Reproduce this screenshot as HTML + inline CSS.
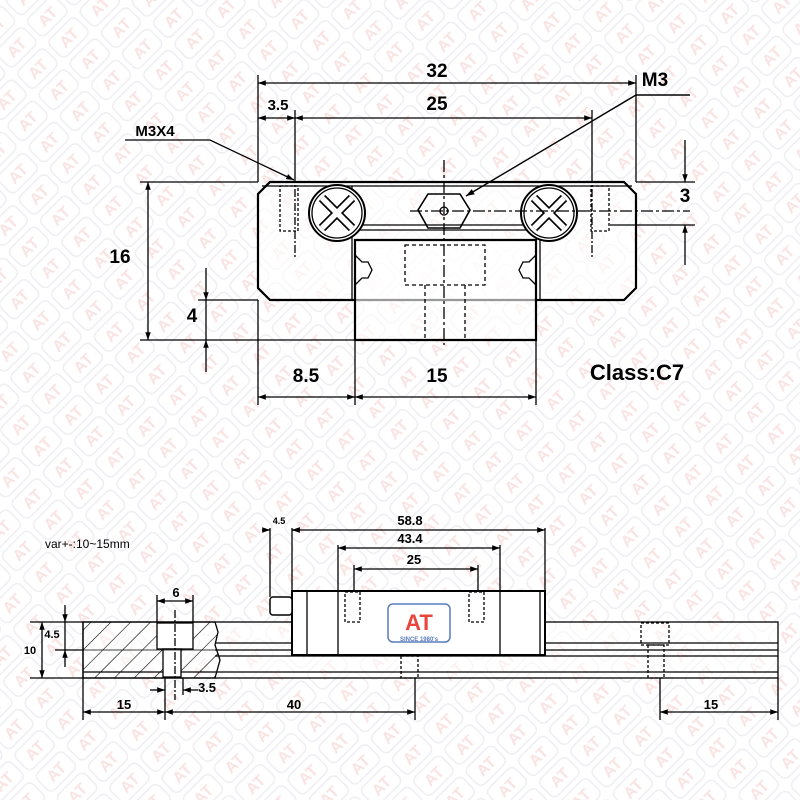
<!DOCTYPE html>
<html><head><meta charset="utf-8"><style>html,body{margin:0;padding:0;background:#fff}svg{display:block}</style></head>
<body>
<svg width="800" height="800" viewBox="0 0 800 800" xmlns="http://www.w3.org/2000/svg" font-family="'Liberation Sans', sans-serif">
<defs>
<pattern id="wm" width="44" height="30" patternUnits="userSpaceOnUse" patternTransform="rotate(-45)">
<rect x="3" y="3" width="38" height="24" rx="6" fill="none" stroke="#eeeef3" stroke-width="1.5"/>
<text x="22" y="21" font-size="16" font-weight="bold" fill="#f9e3e3" text-anchor="middle">AT</text>
</pattern>
<marker id="a" viewBox="0 0 10 10" refX="10" refY="5" markerWidth="9" markerHeight="6" orient="auto-start-reverse"><path d="M0,1.5 L10,5 L0,8.5z" fill="#000"/></marker>
<pattern id="hatch" width="14" height="14" patternUnits="userSpaceOnUse" patternTransform="rotate(45)"><line x1="0" y1="0" x2="0" y2="14" stroke="#000" stroke-width="1.2"/></pattern>
</defs>
<rect width="800" height="800" fill="url(#wm)"/>
<g stroke="#000" fill="none" stroke-width="1.3">
<path d="M270,182 L624,182 L636,194 L636,288 L624,300 L270,300 L258,288 L258,194 Z" stroke-width="2.2" fill="#fff" fill-opacity="0.6"/>
<line x1="262" y1="186" x2="632" y2="186"/>
<line x1="352" y1="186" x2="352" y2="300"/><line x1="540" y1="186" x2="540" y2="300"/>
<line x1="352" y1="225" x2="540" y2="225"/><line x1="352" y1="230" x2="540" y2="230"/>
<path d="M355,240 L536,240 L536,340 L355,340 Z" stroke-width="2.2" fill="#fff" fill-opacity="0.6"/>
<path d="M355,255 L362,262 L368,262 L372,270 L368,278 L362,278 L355,285"/>
<path d="M536,255 L529,262 L523,262 L519,270 L523,278 L529,278 L536,285"/>
<rect x="405" y="245" width="80" height="40" stroke-dasharray="4,3"/>
<line x1="425" y1="285" x2="425" y2="338" stroke-dasharray="4,3"/><line x1="465" y1="285" x2="465" y2="338" stroke-dasharray="4,3"/>
<circle cx="337" cy="213" r="28" stroke-width="2" fill="#fff"/><circle cx="337" cy="213" r="25"/>
<circle cx="549" cy="213" r="28" stroke-width="2" fill="#fff"/><circle cx="549" cy="213" r="25"/>
<path d="M322,198 L352,228 M352,198 L322,228" stroke-width="9"/>
<path d="M322,198 L352,228 M352,198 L322,228" stroke="#fff" stroke-width="5.5"/>
<path d="M534,198 L564,228 M564,198 L534,228" stroke-width="9"/>
<path d="M534,198 L564,228 M564,198 L534,228" stroke="#fff" stroke-width="5.5"/>
<path d="M428,194 L460,194 L470,210 L460,228 L428,228 L418,210 Z" stroke-width="1.6"/>
<circle cx="444" cy="211" r="4"/>
<line x1="410" y1="211" x2="690" y2="211" stroke-dasharray="12,3,3,3"/>
<line x1="444" y1="160" x2="444" y2="345" stroke-dasharray="12,3,3,3"/>
<rect x="280" y="186" width="18" height="45" stroke-dasharray="3,2"/>
<rect x="591" y="186" width="18" height="45" stroke-dasharray="3,2"/>
<line x1="295" y1="175" x2="295" y2="258" stroke-dasharray="8,2,2,2"/>
<line x1="592" y1="175" x2="592" y2="258" stroke-dasharray="8,2,2,2"/>
<line x1="258" y1="182" x2="258" y2="75"/><line x1="636" y1="182" x2="636" y2="75"/>
<line x1="258" y1="83" x2="636" y2="83" marker-start="url(#a)" marker-end="url(#a)"/>
<line x1="295" y1="110" x2="295" y2="175"/><line x1="592" y1="110" x2="592" y2="175"/>
<line x1="295" y1="118" x2="592" y2="118" marker-start="url(#a)" marker-end="url(#a)"/>
<line x1="258" y1="118" x2="295" y2="118" marker-start="url(#a)" marker-end="url(#a)"/>
<line x1="140" y1="182" x2="258" y2="182"/><line x1="140" y1="340" x2="355" y2="340"/>
<line x1="148" y1="182" x2="148" y2="340" marker-start="url(#a)" marker-end="url(#a)"/>
<line x1="198" y1="300" x2="258" y2="300"/>
<line x1="206" y1="268" x2="206" y2="300" marker-end="url(#a)"/>
<line x1="206" y1="372" x2="206" y2="340" marker-end="url(#a)"/>
<line x1="206" y1="300" x2="206" y2="340"/>
<line x1="258" y1="300" x2="258" y2="405"/><line x1="355" y1="340" x2="355" y2="405"/><line x1="536" y1="340" x2="536" y2="405"/>
<line x1="258" y1="397" x2="355" y2="397" marker-start="url(#a)" marker-end="url(#a)"/>
<line x1="355" y1="397" x2="536" y2="397" marker-start="url(#a)" marker-end="url(#a)"/>
<line x1="636" y1="182" x2="695" y2="182"/><line x1="610" y1="225" x2="695" y2="225"/>
<line x1="685" y1="140" x2="685" y2="182" marker-end="url(#a)"/>
<line x1="685" y1="265" x2="685" y2="225" marker-end="url(#a)"/>
<path d="M125,140 L210,140 L294,180" marker-end="url(#a)"/>
<path d="M690,95 L636,95 L466,196" marker-end="url(#a)" stroke-width="1.4"/>
<rect x="83" y="622" width="695" height="56" fill="#fff" fill-opacity="0.5"/>
<line x1="215" y1="643" x2="778" y2="643"/><line x1="215" y1="650" x2="778" y2="650"/><line x1="215" y1="656" x2="778" y2="656"/>
<line x1="83" y1="672" x2="778" y2="672"/>
<path d="M83,622 L215,622 L218,632 L215,645 L220,660 L215,678 L83,678 Z" fill="url(#hatch)"/>
<rect x="157" y="623" width="36" height="26" fill="#fff"/>
<rect x="163" y="649" width="18" height="28" fill="#fff"/>
<line x1="175" y1="610" x2="175" y2="700" stroke-dasharray="8,2,2,2"/>
<line x1="83" y1="650" x2="215" y2="650" stroke-width="0.8"/>
<rect x="292" y="591" width="253" height="64" stroke-width="2" fill="#fff"/>
<line x1="307" y1="591" x2="307" y2="655"/><line x1="338" y1="591" x2="338" y2="655"/>
<line x1="500" y1="591" x2="500" y2="655"/><line x1="540" y1="591" x2="540" y2="655"/>
<rect x="270" y="597" width="22" height="18" rx="3" stroke-width="1.5" fill="#fff"/>
<rect x="345" y="592" width="15" height="30" stroke-dasharray="3,2"/>
<rect x="469" y="592" width="15" height="30" stroke-dasharray="3,2"/>
<rect x="401" y="656" width="17" height="22" stroke-dasharray="3,2"/>
<rect x="641" y="623" width="28" height="22" stroke-dasharray="3,2"/>
<rect x="648" y="645" width="16" height="33" stroke-dasharray="3,2"/>
<rect x="388" y="604" width="62" height="38" rx="5" stroke="#5a7cbd" stroke-width="1.5"/>
<line x1="270" y1="528" x2="270" y2="597"/><line x1="292" y1="528" x2="292" y2="591"/><line x1="545" y1="528" x2="545" y2="591"/>
<line x1="292" y1="530" x2="545" y2="530" marker-start="url(#a)" marker-end="url(#a)"/>
<line x1="262" y1="530" x2="270" y2="530" marker-end="url(#a)"/><line x1="300" y1="530" x2="292" y2="530" marker-end="url(#a)"/>
<line x1="338" y1="545" x2="338" y2="591"/><line x1="500" y1="545" x2="500" y2="591"/>
<line x1="338" y1="548" x2="500" y2="548" marker-start="url(#a)" marker-end="url(#a)"/>
<line x1="354" y1="565" x2="354" y2="591"/><line x1="478" y1="565" x2="478" y2="591"/>
<line x1="354" y1="569" x2="478" y2="569" marker-start="url(#a)" marker-end="url(#a)"/>
<line x1="157" y1="595" x2="157" y2="622"/><line x1="193" y1="595" x2="193" y2="622"/>
<line x1="157" y1="601" x2="193" y2="601" marker-start="url(#a)" marker-end="url(#a)"/>
<line x1="30" y1="622" x2="83" y2="622"/><line x1="30" y1="678" x2="83" y2="678"/><line x1="55" y1="650" x2="83" y2="650"/>
<line x1="42" y1="622" x2="42" y2="678" marker-start="url(#a)" marker-end="url(#a)"/>
<line x1="65" y1="605" x2="65" y2="622" marker-end="url(#a)"/>
<line x1="65" y1="667" x2="65" y2="650" marker-end="url(#a)"/>
<line x1="65" y1="622" x2="65" y2="650"/>
<line x1="83" y1="678" x2="83" y2="720"/><line x1="165" y1="678" x2="165" y2="720"/><line x1="415" y1="678" x2="415" y2="720"/>
<line x1="660" y1="678" x2="660" y2="720"/><line x1="778" y1="678" x2="778" y2="720"/>
<line x1="83" y1="712" x2="165" y2="712" marker-start="url(#a)" marker-end="url(#a)"/>
<line x1="165" y1="712" x2="415" y2="712" marker-start="url(#a)" marker-end="url(#a)"/>
<line x1="660" y1="712" x2="778" y2="712" marker-start="url(#a)" marker-end="url(#a)"/>
<line x1="183" y1="678" x2="183" y2="695"/>
<line x1="150" y1="690" x2="165" y2="690" marker-end="url(#a)"/><line x1="198" y1="690" x2="183" y2="690" marker-end="url(#a)"/>
</g>
<g font-weight="bold" fill="#000" text-anchor="middle">
<text x="437" y="77" font-size="19">32</text>
<text x="437" y="110" font-size="19">25</text>
<text x="278" y="110" font-size="15">3.5</text>
<text x="155" y="136" font-size="15">M3X4</text>
<text x="655" y="86" font-size="19">M3</text>
<text x="120" y="263" font-size="19">16</text>
<text x="192" y="322" font-size="19">4</text>
<text x="685" y="202" font-size="19">3</text>
<text x="306" y="382" font-size="19">8.5</text>
<text x="437" y="382" font-size="19">15</text>
<text x="637" y="380" font-size="22">Class:C7</text>
<text x="279" y="524" font-size="9">4.5</text>
<text x="410" y="525" font-size="13">58.8</text>
<text x="410" y="543" font-size="13">43.4</text>
<text x="414" y="564" font-size="13">25</text>
<text x="176" y="597" font-size="13">6</text>
<text x="52" y="638" font-size="11">4.5</text>
<text x="30" y="654" font-size="11">10</text>
<text x="124" y="709" font-size="13">15</text>
<text x="294" y="709" font-size="13">40</text>
<text x="711" y="709" font-size="13">15</text>
<text x="207" y="692" font-size="13">3.5</text>
<text x="419" y="630" font-size="22" fill="#e8453c">AT</text>
<text x="419" y="641" font-size="6" fill="#5a7cbd">SINCE 1980's</text>
</g>
<text x="45" y="548" font-size="12" fill="#000">var+-:10~15mm</text>
</svg>
</body></html>
